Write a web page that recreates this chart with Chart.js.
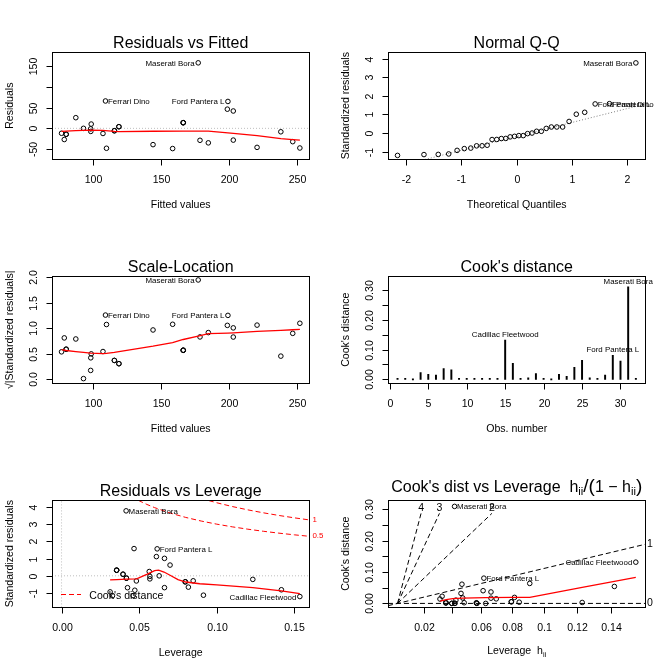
<!DOCTYPE html>
<html>
<head>
<meta charset="utf-8">
<title>lm diagnostics</title>
<script src="https://cdn.jsdelivr.net/npm/chart.js@4.4.1/dist/chart.umd.min.js"></script>
<style>
html, body { margin:0; padding:0; background:#fff; }
#wrap { position:relative; width:672px; height:672px; background:#fff; }
#wrap canvas { position:absolute; }
</style>
</head>
<body>
<div id="wrap">
  <canvas id="p1" width="336" height="224" style="left:0px;top:0px"></canvas>
  <canvas id="p2" width="336" height="224" style="left:336px;top:0px"></canvas>
  <canvas id="p3" width="336" height="224" style="left:0px;top:224px"></canvas>
  <canvas id="p4" width="336" height="224" style="left:336px;top:224px"></canvas>
  <canvas id="p5" width="336" height="224" style="left:0px;top:448px"></canvas>
  <canvas id="p6" width="336" height="224" style="left:336px;top:448px"></canvas>
</div>
<script>
// ---------------- data ----------------
const carNames = ["Mazda RX4","Mazda RX4 Wag","Datsun 710","Hornet 4 Drive","Hornet Sportabout","Valiant","Duster 360","Merc 240D","Merc 230","Merc 280","Merc 280C","Merc 450SE","Merc 450SL","Merc 450SLC","Cadillac Fleetwood","Lincoln Continental","Chrysler Imperial","Fiat 128","Honda Civic","Toyota Corolla","Toyota Corona","Dodge Challenger","AMC Javelin","Camaro Z28","Pontiac Firebird","Fiat X1-9","Porsche 914-2","Lotus Europa","Ford Pantera L","Ferrari Dino","Maserati Bora","Volvo 142E"];
const obsNumber = [1,2,3,4,5,6,7,8,9,10,11,12,13,14,15,16,17,18,19,20,21,22,23,24,25,26,27,28,29,30,31,32];
const fittedValues = [115.74,115.74,92.99,158.62,203.25,144.18,203.25,109.92,107.34,119.07,119.07,166.41,166.41,166.41,252.26,247.01,238.26,80.17,78.86,76.84,98.28,184.88,178.75,198.88,220.75,80.30,98.37,87.35,199.31,109.18,177.44,98.68];
const residualValues = [-5.74,-5.74,0.01,-48.62,-28.25,-39.18,41.75,-47.92,-12.34,3.93,3.93,13.59,13.59,13.59,-47.26,-32.01,-8.26,-14.17,-26.86,-11.84,-1.28,-34.88,-28.75,46.12,-45.75,-14.30,-7.37,25.65,64.69,65.82,157.56,10.32];
const stdResiduals = [-0.138,-0.138,0.000,-1.159,-0.686,-0.933,1.013,-1.150,-0.297,0.094,0.094,0.325,0.325,0.325,-1.204,-0.810,-0.207,-0.346,-0.657,-0.290,-0.031,-0.838,-0.689,1.116,-1.125,-0.350,-0.178,0.624,1.566,1.581,3.774,0.249];
const sqrtAbsStdRes = [0.371,0.371,0.016,1.077,0.828,0.966,1.007,1.073,0.545,0.307,0.307,0.570,0.570,0.570,1.097,0.900,0.455,0.589,0.811,0.539,0.176,0.915,0.830,1.056,1.061,0.591,0.422,0.790,1.251,1.257,1.943,0.499];
const leverage = [0.0418,0.0418,0.0629,0.0328,0.0663,0.0313,0.0663,0.0461,0.0482,0.0396,0.0396,0.0355,0.0355,0.0355,0.1535,0.1416,0.1232,0.0798,0.0817,0.0848,0.0569,0.0472,0.0425,0.0611,0.0914,0.0796,0.0569,0.0699,0.0616,0.0467,0.0416,0.0565];
const leverageRatio = [0.0436,0.0436,0.0671,0.0339,0.0711,0.0323,0.0711,0.0483,0.0507,0.0413,0.0413,0.0368,0.0368,0.0368,0.1813,0.1650,0.1405,0.0867,0.0890,0.0926,0.0604,0.0496,0.0444,0.0651,0.1006,0.0865,0.0603,0.0751,0.0657,0.0490,0.0434,0.0599];
const cooksDistance = [0.0004,0.0004,0.0000,0.0228,0.0167,0.0141,0.0365,0.0320,0.0022,0.0002,0.0002,0.0019,0.0019,0.0019,0.1315,0.0541,0.0030,0.0052,0.0192,0.0039,0.0000,0.0174,0.0105,0.0405,0.0637,0.0053,0.0010,0.0146,0.0805,0.0612,0.3092,0.0019];
const qqTheoretical = [-2.154,-1.676,-1.418,-1.229,-1.077,-0.947,-0.830,-0.725,-0.626,-0.534,-0.445,-0.360,-0.277,-0.197,-0.118,-0.039,0.039,0.118,0.197,0.277,0.360,0.445,0.534,0.626,0.725,0.830,0.947,1.077,1.229,1.418,1.676,2.154];
const qqSample = [-1.204,-1.159,-1.150,-1.125,-0.933,-0.838,-0.810,-0.689,-0.686,-0.657,-0.350,-0.346,-0.297,-0.290,-0.207,-0.178,-0.138,-0.138,-0.031,0.000,0.094,0.094,0.249,0.325,0.325,0.325,0.624,1.013,1.116,1.566,1.581,3.774];
const qqSampleObs = [15,4,8,25,6,22,16,23,5,19,26,18,9,20,17,27,1,2,21,3,10,11,32,12,13,14,28,7,24,29,30,31];
const qqLineX = [-2.5, 2.5];
const qqLineY = [-2.054, 1.693];

// smoothers
const rvfSmoothX = [76.8,87.3,98.3,107.3,109.2,115.7,119.1,144.2,166.4,177.4,184.9,199.3,203.3,220.8,238.3,247.0,252.3];
const rvfSmoothY = [-7.5,-5.5,-4.5,-5.0,-5.5,-7.5,-8.0,-7.0,-6.5,-6.5,-6.8,-11.0,-12.3,-17.5,-24.5,-27.0,-28.5];
const slSmoothX = [76.8,80.2,87.3,93.0,98.3,107.3,109.9,115.7,119.1,144.2,158.6,166.4,177.4,184.9,199.3,203.3,220.8,238.3,247.0,252.3];
const slSmoothY = [0.58,0.565,0.545,0.53,0.515,0.505,0.51,0.53,0.545,0.65,0.72,0.78,0.845,0.895,0.905,0.91,0.94,0.96,0.97,0.978];
const rvlSmoothX = [0.0313,0.0355,0.0420,0.0484,0.0549,0.0600,0.0625,0.0660,0.0699,0.0750,0.0800,0.0890,0.1000,0.1232,0.1416,0.1535];
const rvlSmoothY = [-0.24,-0.22,-0.19,-0.18,0.08,0.30,0.33,0.22,0.03,-0.22,-0.36,-0.46,-0.53,-0.68,-0.87,-1.04];
const cvlSmoothX = [0.0323,0.0370,0.0420,0.0496,0.0673,0.0870,0.1006,0.1405,0.1650,0.1813];
const cvlSmoothY = [0.0070,0.0120,0.0150,0.0170,0.0183,0.0190,0.0195,0.0510,0.0700,0.0832];

// Cook's distance contours (Residuals vs Leverage)
const cook05H = [0.045,0.05,0.055,0.06,0.07,0.08,0.09,0.10,0.11,0.12,0.13,0.14,0.15,0.1597];
const cook05R = [4.607,4.359,4.145,3.958,3.645,3.391,3.180,3.000,2.844,2.708,2.587,2.478,2.380,2.294];
const cook1H = [0.085,0.09,0.095,0.10,0.11,0.12,0.13,0.14,0.15,0.1597];
const cook1R = [4.640,4.497,4.365,4.243,4.023,3.830,3.659,3.505,3.367,3.245];
const cookLevelLabels = ["0.5","1"];

// reference lines of Cook's dist vs Leverage
const cookRefLabels = ["0","1","2","3","4"];
const cookRefStartX = [-0.0073,-0.0073,0,0,0];
const cookRefStartY = [0,-0.0073,0,0,0];
const cookRefEndX = [0.1886,0.1886,0.0718,0.0319,0.0179];
const cookRefEndY = [0,0.1886,0.287,0.287,0.287];

// ids
const idByResidual = [31,30,29];
const idByCook = [31,15,29];
const idQQ = [32,31,30];

// ticks
const fittedTicks = [100,150,200,250];
const residualTicks = [-50,0,50,100,150];
const residualTickLabels = ["-50","0","50","","150"];
const qqXTicks = [-2,-1,0,1,2];
const stdResTicks = [-1,0,1,2,3,4];
const sqrtTicks = [0,0.5,1,1.5,2];
const sqrtTickLabels = ["0.0","0.5","1.0","1.5","2.0"];
const obsTicks = [0,5,10,15,20,25,30];
const cookTicks = [0,0.05,0.10,0.15,0.20,0.25,0.30];
const cookTickLabels = ["0.00","","0.10","","0.20","","0.30"];
const leverageTicks = [0,0.05,0.10,0.15];
const leverageTickLabels = ["0.00","0.05","0.10","0.15"];
const hatTickPositions = [0.0204,0.0417,0.0638,0.0870,0.1111,0.1364,0.1628];
const hatTickLabels = ["0.02","","0.06","0.08","0.1","0.12","0.14"];

// ---------------- drawing ----------------
const FONT = '"Liberation Sans", Arial, Helvetica, sans-serif';
const AX_FONT = '10.56px ' + FONT;
const TITLE_FONT = '16px ' + FONT;
const ID_FONT = '7.92px ' + FONT;
const RED = '#FF0000';
const snap = v => Math.round(v) + 0.5;
const frames = {};

function drawParts(ctx, parts, cx, base) {
  let w = 0;
  parts.forEach(p => { ctx.font = p.s + 'px ' + FONT; p.w = ctx.measureText(p.t).width; w += p.w; });
  let x = cx - w / 2;
  ctx.textAlign = 'left';
  parts.forEach(p => { ctx.font = p.s + 'px ' + FONT; ctx.fillText(p.t, x, base + (p.dy || 0)); x += p.w; });
  ctx.textAlign = 'center';
}

function drawFrame(chart, f) {
  const ctx = chart.ctx, A = chart.chartArea, X = chart.scales.x, Y = chart.scales.y;
  ctx.save();
  ctx.setLineDash([]);
  ctx.strokeStyle = '#000'; ctx.fillStyle = '#000'; ctx.lineWidth = 1;
  const L = snap(A.left), R = snap(A.right), T = snap(A.top), B = snap(A.bottom);
  ctx.strokeRect(L, T, R - L, B - T);
  ctx.font = AX_FONT; ctx.textAlign = 'center'; ctx.textBaseline = 'alphabetic';
  f.xTicks.forEach((v, i) => {
    const x = snap(X.getPixelForValue(v));
    ctx.beginPath(); ctx.moveTo(x, B); ctx.lineTo(x, B + 6); ctx.stroke();
    const lab = f.xLabels ? f.xLabels[i] : String(v);
    if (lab) ctx.fillText(lab, x, A.bottom + 24);
  });
  f.yTicks.forEach((v, i) => {
    const y = snap(Y.getPixelForValue(v));
    ctx.beginPath(); ctx.moveTo(L, y); ctx.lineTo(L - 6, y); ctx.stroke();
    const lab = f.yLabels ? f.yLabels[i] : String(v);
    if (lab) {
      ctx.save(); ctx.translate(A.left - 15.5, y); ctx.rotate(-Math.PI / 2);
      ctx.fillText(lab, 0, 0); ctx.restore();
    }
  });
  const cx = (A.left + A.right) / 2, cy = (A.top + A.bottom) / 2;
  if (f.titleParts) drawParts(ctx, f.titleParts, cx, A.top - 8.3);
  else { ctx.font = TITLE_FONT; ctx.fillText(f.title, cx, A.top - 4.3); }
  if (f.xlabParts) drawParts(ctx, f.xlabParts, cx, A.bottom + 47);
  else { ctx.font = AX_FONT; ctx.fillText(f.xlab, cx, A.bottom + 48.9); }
  ctx.font = AX_FONT;
  ctx.save(); ctx.translate(A.left - 39.3, cy); ctx.rotate(-Math.PI / 2);
  ctx.fillText(f.ylab, 0, 0); ctx.restore();
  ctx.restore();
}

function drawIds(chart, f) {
  if (!f.ids) return;
  const ctx = chart.ctx, X = chart.scales.x, Y = chart.scales.y;
  ctx.save();
  ctx.font = ID_FONT; ctx.fillStyle = '#000'; ctx.textBaseline = 'alphabetic';
  f.ids.forEach(d => {
    const x = X.getPixelForValue(d.x), y = Y.getPixelForValue(d.y);
    if (d.pos === 4) { ctx.textAlign = 'left'; ctx.fillText(d.t, x + 2.5, y + 3); }
    else if (d.pos === 2) { ctx.textAlign = 'right'; ctx.fillText(d.t, x - 3.5, y + 3); }
    else { ctx.textAlign = 'center'; ctx.fillText(d.t, x, y - 3.4); }
  });
  ctx.restore();
}

const rPlugin = {
  id: 'rframe',
  afterDatasetsDraw(chart) { const f = frames[chart.canvas.id]; if (f) drawIds(chart, f); },
  afterDraw(chart) {
    const f = frames[chart.canvas.id];
    if (!f) return;
    drawFrame(chart, f);
    if (f.extra) f.extra(chart.ctx, chart.chartArea, chart.scales.x, chart.scales.y);
  }
};

function xy(xs, ys) { return xs.map((x, i) => ({ x: x, y: ys[i] })); }
function pointsDS(xs, ys) {
  return { data: xy(xs, ys), showLine: false, pointStyle: 'circle', pointRadius: 2.3, pointHoverRadius: 2.3,
    borderColor: '#000', backgroundColor: 'rgba(0,0,0,0)', pointBorderWidth: 1, borderWidth: 1, clip: false };
}
function lineDS(xs, ys, color, dash, width) {
  return { data: xy(xs, ys), showLine: true, pointRadius: 0, pointHoverRadius: 0, borderColor: color,
    backgroundColor: color, borderWidth: width || 1, borderDash: dash || [], fill: false, tension: 0, clip: 0 };
}
function idList(obs, xs, ys, names, pos) {
  return obs.map((o, k) => ({ x: xs[o - 1], y: ys[o - 1], t: names[o - 1], pos: pos[k] }));
}

function makeChart(id, type, datasets, xr, yr, frame) {
  frames[id] = frame;
  return new Chart(document.getElementById(id), {
    type: type,
    data: { datasets: datasets },
    options: {
      responsive: false, animation: false, devicePixelRatio: 1, events: [],
      layout: { padding: { left: 52, top: 52, right: 26.6, bottom: 64.6 } },
      plugins: { legend: { display: false }, tooltip: { enabled: false }, title: { display: false } },
      scales: {
        x: { type: 'linear', min: xr[0], max: xr[1], display: false, offset: false },
        y: { type: 'linear', min: yr[0], max: yr[1], display: false }
      }
    },
    plugins: [rPlugin]
  });
}

// 1. Residuals vs Fitted
makeChart('p1', 'scatter', [
  lineDS(rvfSmoothX, rvfSmoothY, RED, [], 1.3),
  pointsDS(fittedValues, residualValues),
  lineDS([69.82, 259.28], [0, 0], '#BEBEBE', [1, 2], 1)
], [69.82, 259.28], [-74.68, 183.62], {
  title: 'Residuals vs Fitted', xlab: 'Fitted values', ylab: 'Residuals',
  xTicks: fittedTicks, yTicks: residualTicks, yLabels: residualTickLabels,
  ids: idList(idByResidual, fittedValues, residualValues, carNames, [2, 4, 2])
});

// 2. Normal Q-Q
const qqNames = qqSampleObs.map(o => carNames[o - 1]);
makeChart('p2', 'scatter', [
  pointsDS(qqTheoretical, qqSample),
  lineDS(qqLineX, qqLineY, '#7F7F7F', [1, 2], 1)
], [-2.3261, 2.3261], [-1.4185, 4.3610], {
  title: 'Normal Q-Q', xlab: 'Theoretical Quantiles', ylab: 'Standardized residuals',
  xTicks: qqXTicks, yTicks: stdResTicks,
  ids: idList(idQQ, qqTheoretical, qqSample, qqNames, [2, 4, 4])
});

// 3. Scale-Location
makeChart('p3', 'scatter', [
  lineDS(slSmoothX, slSmoothY, RED, [], 1.3),
  pointsDS(fittedValues, sqrtAbsStdRes)
], [69.82, 259.28], [-0.0777, 2.0203], {
  title: 'Scale-Location', xlab: 'Fitted values', ylab: '\u221A|Standardized residuals|',
  xTicks: fittedTicks, yTicks: sqrtTicks, yLabels: sqrtTickLabels,
  ids: idList(idByResidual, fittedValues, sqrtAbsStdRes, carNames, [2, 4, 2])
});

// 4. Cook's distance
makeChart('p4', 'bar', [
  { data: xy(obsNumber, cooksDistance), backgroundColor: '#000', borderWidth: 0, barThickness: 1.3, minBarLength: 1 }
], [-0.24, 33.24], [-0.0133, 0.3457], {
  title: "Cook's distance", xlab: 'Obs. number', ylab: "Cook's distance",
  xTicks: obsTicks, yTicks: cookTicks, yLabels: cookTickLabels,
  ids: idList(idByCook, obsNumber, cooksDistance, carNames, [3, 3, 3])
});

// 5. Residuals vs Leverage
makeChart('p5', 'scatter', [
  lineDS(rvlSmoothX, rvlSmoothY, RED, [], 1.3),
  pointsDS(leverage, stdResiduals),
  lineDS(cook05H, cook05R, RED, [5, 3], 1),
  lineDS(cook1H, cook1R, RED, [5, 3], 1),
  lineDS([-0.00614, 0.15965], [0, 0], '#BEBEBE', [1, 2], 1),
  lineDS([0, 0], [-1.834, 4.403], '#BEBEBE', [1, 2], 1)
], [-0.00614, 0.15965], [-1.834, 4.403], {
  title: 'Residuals vs Leverage', xlab: 'Leverage', ylab: 'Standardized residuals',
  xTicks: leverageTicks, xLabels: leverageTickLabels, yTicks: stdResTicks,
  ids: idList(idByCook, leverage, stdResiduals, carNames, [4, 2, 4]),
  extra(ctx, A, X, Y) {
    ctx.save();
    ctx.font = ID_FONT; ctx.fillStyle = RED; ctx.textAlign = 'left'; ctx.textBaseline = 'middle';
    ctx.fillText(cookLevelLabels[1], A.right + 3, Y.getPixelForValue(cook1R[cook1R.length - 1]));
    ctx.fillText(cookLevelLabels[0], A.right + 3, Y.getPixelForValue(cook05R[cook05R.length - 1]));
    const ly = snap(A.bottom - 13.5);
    ctx.strokeStyle = RED; ctx.lineWidth = 1; ctx.setLineDash([5, 3]);
    ctx.beginPath(); ctx.moveTo(A.left + 9, ly); ctx.lineTo(A.left + 29, ly); ctx.stroke();
    ctx.setLineDash([]);
    ctx.fillStyle = '#000'; ctx.font = AX_FONT; ctx.textBaseline = 'alphabetic';
    ctx.fillText("Cook's distance", A.left + 37.3, ly + 4);
    ctx.restore();
  }
});

// 6. Cook's dist vs Leverage
const refDS = cookRefLabels.map((lab, i) =>
  lineDS([cookRefStartX[i], cookRefEndX[i]], [cookRefStartY[i], cookRefEndY[i]], '#000', [5, 3], 1));
makeChart('p6', 'scatter', [
  lineDS(cvlSmoothX, cvlSmoothY, RED, [], 1.3),
  pointsDS(leverageRatio, cooksDistance)
].concat(refDS), [-0.007254, 0.18860], [-0.01268, 0.3296], {
  titleParts: [
    { t: "Cook's dist vs Leverage  h", s: 16 },
    { t: 'ii', s: 11.2, dy: 3.3 },
    { t: '/', s: 19 },
    { t: '(', s: 19 },
    { t: '1 \u2212 h', s: 16 },
    { t: 'ii', s: 11.2, dy: 3.3 },
    { t: ')', s: 19 }
  ],
  xlabParts: [
    { t: 'Leverage  h', s: 10.56 },
    { t: 'ii', s: 7.4, dy: 2.5 }
  ],
  ylab: "Cook's distance",
  xTicks: hatTickPositions, xLabels: hatTickLabels, yTicks: cookTicks, yLabels: cookTickLabels,
  ids: idList(idByCook, leverageRatio, cooksDistance, carNames, [4, 2, 4]),
  extra(ctx, A, X, Y) {
    ctx.save();
    ctx.font = AX_FONT; ctx.fillStyle = '#000';
    cookRefLabels.forEach((lab, i) => {
      if (cookRefEndX[i] >= X.max - 1e-9) {
        ctx.textAlign = 'left'; ctx.textBaseline = 'middle';
        ctx.fillText(lab, A.right + 1.5, Y.getPixelForValue(cookRefEndY[i]));
      } else {
        ctx.textAlign = 'center'; ctx.textBaseline = 'alphabetic';
        ctx.fillText(lab, X.getPixelForValue(cookRefEndX[i]), Y.getPixelForValue(cookRefEndY[i]) - 2);
      }
    });
    ctx.restore();
  }
});
</script>
</body>
</html>
